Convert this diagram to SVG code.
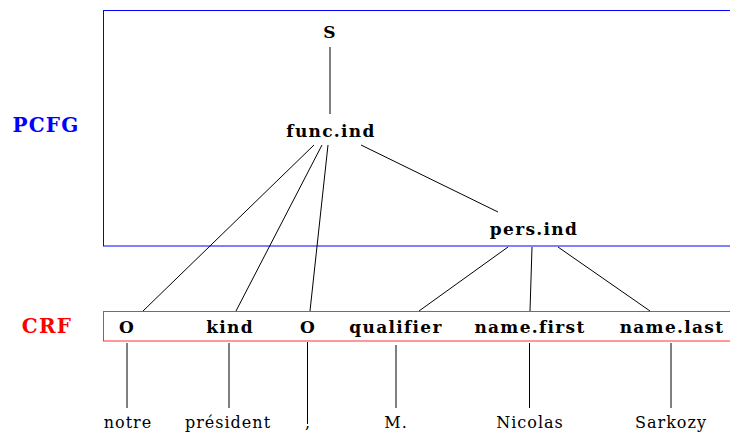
<svg xmlns="http://www.w3.org/2000/svg" width="730" height="432" viewBox="0 0 730 432">
<style>
.nt{font-family:"DejaVu Serif","Liberation Serif",serif;font-weight:bold;font-size:17px;letter-spacing:1.3px;text-anchor:middle;fill:#000}
.w{font-family:"DejaVu Serif","Liberation Serif",serif;font-size:16px;letter-spacing:1px;text-anchor:middle;fill:#000}
.lab{font-family:"DejaVu Serif","Liberation Serif",serif;font-weight:bold;font-size:20px;letter-spacing:1.2px;text-anchor:middle}
.e{stroke:#000;stroke-width:1;fill:none}
</style>
<rect x="103.5" y="10.5" width="640" height="235.5" fill="none" stroke="#0000ff" stroke-width="1"/>
<rect x="103.5" y="311.5" width="640" height="29.5" fill="none" stroke="#ff3030" stroke-width="1"/>
<text class="lab" x="46" y="132" fill="#0000ff">PCFG</text>
<text class="lab" x="47" y="333" fill="#ff0000">CRF</text>
<g id="connectors">
<line class="e" x1="330" y1="47" x2="330" y2="114"/>
<line class="e" x1="314" y1="145" x2="143" y2="311"/>
<line class="e" x1="322" y1="145" x2="236" y2="311"/>
<line class="e" x1="328" y1="145" x2="310" y2="311"/>
<line class="e" x1="361" y1="145" x2="498" y2="212"/>
<line class="e" x1="508" y1="247" x2="419" y2="311"/>
<line class="e" x1="532" y1="247" x2="530" y2="311"/>
<line class="e" x1="558" y1="247" x2="650" y2="311"/>
<line class="e" x1="127" y1="343" x2="127" y2="408"/>
<line class="e" x1="229" y1="343" x2="229" y2="408"/>
<line class="e" x1="307.5" y1="342" x2="307.5" y2="424"/>
<line class="e" x1="396" y1="345" x2="396" y2="408"/>
<line class="e" x1="529.5" y1="343" x2="529.5" y2="408"/>
<line class="e" x1="671" y1="343" x2="671" y2="408"/>
</g>
<g id="n-S"><text class="nt" x="330" y="38">S</text></g>
<g id="n-func"><text class="nt" x="331" y="137">func.ind</text></g>
<g id="n-pers"><text class="nt" x="534" y="235">pers.ind</text></g>
<g id="n-O1"><text class="nt" x="127" y="333">O</text></g>
<g id="n-kind"><text class="nt" x="230" y="333">kind</text></g>
<g id="n-O2"><text class="nt" x="308" y="333">O</text></g>
<g id="n-qual"><text class="nt" x="396" y="333">qualifier</text></g>
<g id="n-first"><text class="nt" x="530" y="333">name.first</text></g>
<g id="n-last"><text class="nt" x="672" y="333">name.last</text></g>
<g id="w-notre"><text class="w" x="128" y="428">notre</text></g>
<g id="w-pres"><text class="w" x="228" y="428">président</text></g>
<g id="w-comma"><text class="w" x="308" y="428">,</text></g>
<g id="w-M"><text class="w" x="396" y="428">M.</text></g>
<g id="w-nic"><text class="w" x="530" y="428">Nicolas</text></g>
<g id="w-sar"><text class="w" x="671" y="428">Sarkozy</text></g>
</svg>
